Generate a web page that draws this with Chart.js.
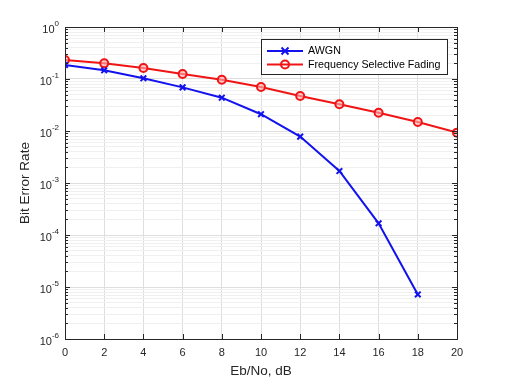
<!DOCTYPE html>
<html>
<head>
<meta charset="utf-8">
<script src="https://cdn.jsdelivr.net/npm/chart.js@4"></script>
<style>
  body { margin: 0; background: #fff; }
</style>
</head>
<body>
<canvas id="ber" width="506" height="380"></canvas>
<script>
/* BER curves */

const ebno = [0, 2, 4, 6, 8, 10, 12, 14, 16, 18, 20]
const berAwgn = [0.186, 0.147, 0.103, 0.069, 0.0437, 0.021, 0.0078, 0.0017, 0.000168, 0.0000072]
const berFading = [0.232, 0.20, 0.163, 0.125, 0.097, 0.070, 0.047, 0.0326, 0.0225, 0.0149, 0.0093]
const yExponents = [0, -1, -2, -3, -4, -5, -6]
const xTickLabels = ['0', '2', '4', '6', '8', '10', '12', '14', '16', '18', '20']

const Text = {
  AWGN: 'AWGN',
  FADING: 'Frequency Selective Fading',
  X_TITLE: 'Eb/No, dB',
  Y_TITLE: 'Bit Error Rate'
}

const FONT = "'Liberation Sans', Arial, sans-serif"
const BLUE = '#1212ee'
const RED = '#f01414'

// decade ticks plus minor 2..9 ticks for the log grid
const yTicks = []
yExponents.forEach(e => {
  yTicks.push({ value: Math.pow(10, e), major: true })
  if (e < 0) {
    for (let m = 2; m <= 9; m++) yTicks.push({ value: m * Math.pow(10, e), major: false })
  }
})

const matlabFrame = {
  id: 'matlabFrame',
  afterDraw(chart) {
    const { ctx, chartArea: a, scales: { x, y } } = chart
    ctx.save()
    ctx.strokeStyle = '#262626'
    ctx.lineWidth = 1

    // inward tick marks
    ctx.beginPath()
    y.ticks.forEach(t => {
      const py = Math.round(y.getPixelForValue(t.value)) + 0.5
      const len = t.major ? 5 : 3
      ctx.moveTo(a.left, py); ctx.lineTo(a.left + len, py)
      ctx.moveTo(a.right, py); ctx.lineTo(a.right - len, py)
    })
    x.ticks.forEach(t => {
      const px = Math.round(x.getPixelForValue(t.value)) + 0.5
      ctx.moveTo(px, a.bottom); ctx.lineTo(px, a.bottom - 5)
      ctx.moveTo(px, a.top); ctx.lineTo(px, a.top + 5)
    })
    ctx.stroke()

    // axes box
    ctx.strokeRect(Math.round(a.left) + 0.5, Math.round(a.top) + 0.5,
      Math.round(a.right - a.left), Math.round(a.bottom - a.top))

    // y tick labels as 10^n
    ctx.fillStyle = '#262626'
    yExponents.forEach(e => {
      const py = y.getPixelForValue(Math.pow(10, e))
      ctx.font = '8px ' + FONT
      const exp = String(e)
      const ew = ctx.measureText(exp).width
      ctx.textAlign = 'left'
      ctx.textBaseline = 'middle'
      const right = a.left - 6
      ctx.fillText(exp, right - ew, py - 3)
      ctx.font = '11px ' + FONT
      ctx.textAlign = 'right'
      ctx.fillText('10', right - ew, py + 2.5)
    })

    // legend
    const lx = 261, ly = 39, lw = 186, lh = 35
    ctx.fillStyle = '#fff'
    ctx.fillRect(lx, ly, lw, lh)
    ctx.strokeStyle = '#262626'
    ctx.strokeRect(lx + 0.5, ly + 0.5, lw, lh)
    chart.data.datasets.forEach((ds, i) => {
      const ry = ly + 12 + i * 13.5
      ctx.strokeStyle = ds.borderColor
      ctx.lineWidth = 2
      ctx.beginPath()
      ctx.moveTo(lx + 6, ry); ctx.lineTo(lx + 42, ry)
      ctx.stroke()
      const cx = lx + 24
      ctx.beginPath()
      if (ds.pointStyle === 'circle') {
        ctx.arc(cx, ry, 4, 0, Math.PI * 2)
      } else {
        ctx.moveTo(cx - 3.5, ry - 3.5); ctx.lineTo(cx + 3.5, ry + 3.5)
        ctx.moveTo(cx + 3.5, ry - 3.5); ctx.lineTo(cx - 3.5, ry + 3.5)
      }
      ctx.stroke()
      ctx.fillStyle = '#000'
      ctx.font = '10.7px ' + FONT
      ctx.textAlign = 'left'
      ctx.textBaseline = 'middle'
      ctx.fillText(ds.label, lx + 47, ry + 0.5)
    })
    ctx.restore()
  }
}

new Chart(document.getElementById('ber'), {
  type: 'line',
  data: {
    datasets: [
      {
        label: Text.AWGN,
        data: berAwgn.map((v, i) => ({ x: ebno[i], y: v })),
        borderColor: BLUE,
        backgroundColor: BLUE,
        borderWidth: 2,
        pointStyle: 'crossRot',
        pointRadius: 4,
        pointBorderWidth: 2,
        pointBorderColor: BLUE
      },
      {
        label: Text.FADING,
        data: berFading.map((v, i) => ({ x: ebno[i], y: v })),
        borderColor: RED,
        backgroundColor: 'rgba(255,255,255,0)',
        borderWidth: 2,
        pointStyle: 'circle',
        pointRadius: 4,
        pointBorderWidth: 2,
        pointBorderColor: RED,
        pointBackgroundColor: 'rgba(255,180,180,0.6)'
      }
    ]
  },
  options: {
    responsive: false,
    animation: false,
    layout: { padding: { top: 27, right: 49, left: 0, bottom: 0 } },
    plugins: {
      legend: { display: false },
      tooltip: { enabled: false }
    },
    scales: {
      x: {
        type: 'linear',
        min: 0,
        max: 20,
        afterBuildTicks: s => { s.ticks = ebno.map(v => ({ value: v })) },
        afterFit: s => { s.height = 41 },
        ticks: {
          callback: (v, i) => xTickLabels[i],
          color: '#262626',
          font: { family: FONT, size: 11 },
          padding: 7,
          maxRotation: 0
        },
        grid: { color: '#dedede', drawTicks: false },
        border: { display: false },
        title: {
          display: true,
          text: Text.X_TITLE,
          color: '#262626',
          font: { family: FONT, size: 13.5 },
          padding: { top: 0, bottom: 1 }
        }
      },
      y: {
        type: 'logarithmic',
        min: 1e-6,
        max: 1,
        afterBuildTicks: s => { s.ticks = yTicks.map(t => ({ value: t.value, major: t.major })) },
        afterFit: s => { s.width = 65 },
        ticks: { display: false },
        grid: {
          drawTicks: false,
          color: c => (c.tick && c.tick.major ? '#dedede' : '#f0f0f0')
        },
        border: { display: false },
        title: {
          display: true,
          text: Text.Y_TITLE,
          color: '#262626',
          font: { family: FONT, size: 13.5 },
          padding: { top: 17, bottom: 0 }
        }
      }
    }
  },
  plugins: [matlabFrame]
})
</script>
</body>
</html>
